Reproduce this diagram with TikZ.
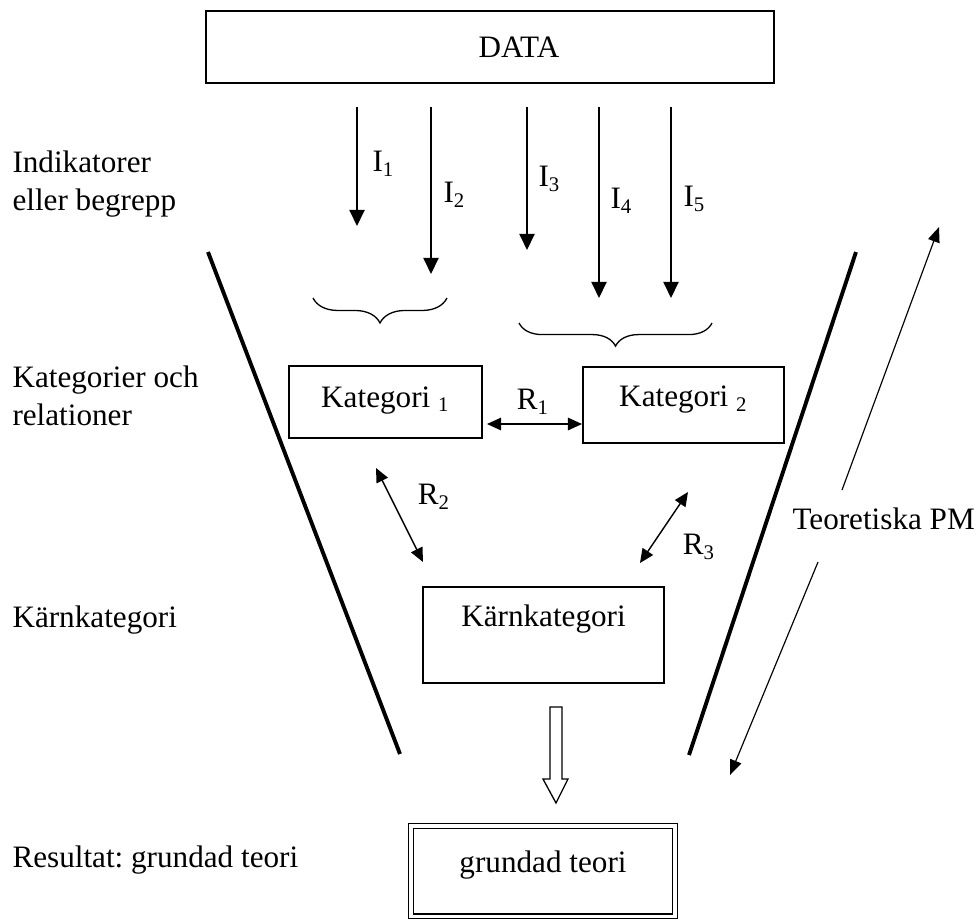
\documentclass[tikz,border=0pt]{standalone}
\usepackage{fontspec}
\setmainfont{Liberation Serif}
\usetikzlibrary{arrows.meta,decorations.pathreplacing}
\frenchspacing

\newcommand*{\px}{0.385pt}

\begin{document}
\begin{tikzpicture}
[
	x=\px, y=-\px,
	every node/.style={inner sep=0pt, font=\fontsize{12}{14.6}\selectfont},
	box/.style={draw, line width=0.75pt},
	iarrow/.style={-{Triangle[length=6.2pt,width=5.8pt]}, line width=0.75pt},
	rarrow/.style={{Triangle[length=5.4pt,width=4.8pt]}-{Triangle[length=5.4pt,width=4.8pt]}, line width=0.55pt},
	pmarrow/.style={-{Triangle[length=5.8pt,width=4.6pt]}, line width=0.45pt},
	funnel/.style={line width=1.5pt},
	curly/.style={decorate, decoration={brace, mirror, amplitude=#1}, line width=0.5pt},
	hollow/.style={draw, line width=0.5pt}
]

	\useasboundingbox (0,0) rectangle (979,921);

	% boxes
	\node[box, minimum width=218.7pt, minimum height=27.7pt] (data) at (490,47) {\hspace*{22.3pt}DATA};
	\node[box, minimum width=74.3pt, text height=15.8pt, text depth=11.9pt] (kat1) at (385.5,402) {Kategori \textsubscript{1}};
	\node[box, minimum width=77.4pt, text height=15.4pt, text depth=13.9pt] (kat2) at (683.5,405) {Kategori \textsubscript{2}};
	\node[box, minimum width=92.8pt, text height=15.4pt, text depth=21.6pt] (kern) at (543.5,635) {Kärnkategori};
	\node[box, double, double distance=1.2pt, line width=0.7pt, minimum width=101.6pt, text height=18.1pt, text depth=16.6pt] (grund) at (543,871) {grundad teori};

	% labels on the left (base = last line)
	\node[anchor=base west, align=left] (ind) at (12,210) {Indikatorer\\eller begrepp};
	\node[anchor=base west, align=left] (katrel) at (12,425) {Kategorier och\\relationer};
	\node[anchor=base west] (kernlab) at (12,627) {Kärnkategori};
	\node[anchor=base west] (reslab) at (12,867) {Resultat: grundad teori};

	% indicators
	\foreach \x/\tip/\n/\lx/\ly in {357/226/1/372/164, 431/274/2/443/195, 527/250/3/538/179, 599/298/4/610/201, 671/298/5/683/199} {
		\coordinate (start\n) at (\x,107);
		\coordinate (stop\n) at (\x,\tip);
		\draw[iarrow] (start\n) -- (stop\n);
		\node[anchor=west] (i\n) at (\lx,\ly) {I\textsubscript{\n}};
	}

	% braces
	\draw[curly=9.6pt] (313,298) -- (447,298);
	\draw[curly=8.9pt] (519,323) -- (712,323);

	% relations
	\coordinate (r1a) at (487,424);
	\draw[rarrow] (r1a) -- (r1a -| kat2.west);
	\node (r1) at (533,402) {R\textsubscript{1}};
	\coordinate (r2a) at (376,468);
	\coordinate (r2b) at (423,562);
	\draw[rarrow] (r2a) -- (r2b);
	\node (r2) at (434,497) {R\textsubscript{2}};
	\coordinate (r3a) at (688,492);
	\coordinate (r3b) at (640,563);
	\draw[rarrow] (r3a) -- (r3b);
	\node (r3) at (699,547) {R\textsubscript{3}};

	% funnel
	\draw[funnel] (208,252) -- (400,754);
	\draw[funnel] (856,252) -- (689,755);

	% theoretical memos
	\node[anchor=base west] (pm) at (792,529) {Teoretiska PM};
	\coordinate (pmup) at (842,490);
	\coordinate (pmtop) at (939,227);
	\draw[pmarrow] (pmup) -- (pmtop);
	\coordinate (pmlow) at (818,562);
	\coordinate (pmbot) at (730,775);
	\draw[pmarrow] (pmlow) -- (pmbot);

	% result arrow
	\draw[hollow] (550,707) -- (562,707) -- (562,779) -- (568,779) -- (556,803) -- (543,779) -- (550,779) -- cycle;

\end{tikzpicture}
\end{document}
